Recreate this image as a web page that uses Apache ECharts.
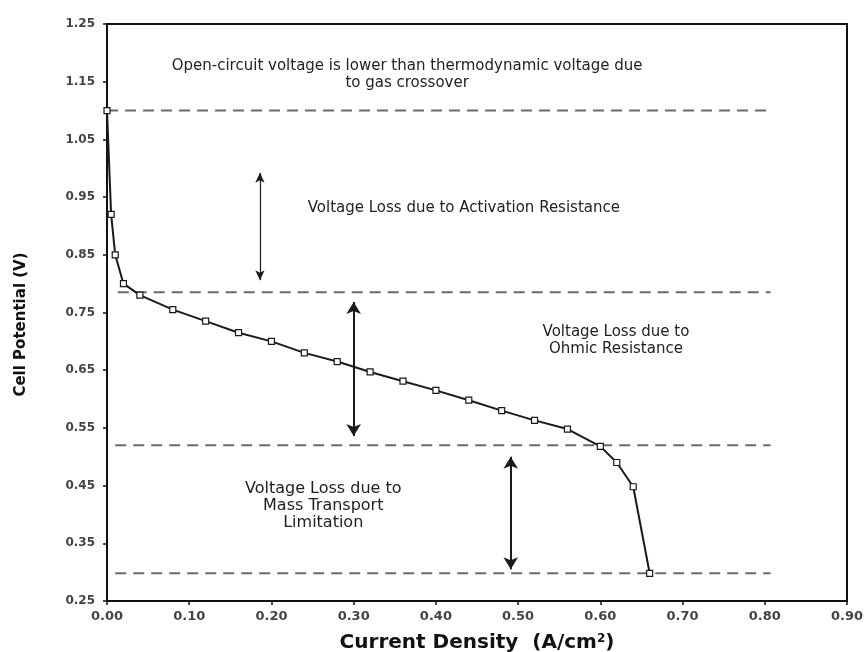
<!DOCTYPE html>
<html>
<head>
<meta charset="utf-8">
<script src="https://cdn.jsdelivr.net/npm/echarts@6/dist/echarts.min.js"></script>
<style>
    html, body { margin: 0; padding: 0; background: #fff; }
    #chart { width: 865px; height: 652px; }
</style>
</head>
<body>
<div id="chart"></div>
<script>
// polarisation curve points
var currentDensity = [0, 0.005, 0.01, 0.02, 0.04, 0.08, 0.12, 0.16, 0.20, 0.24, 0.28, 0.32, 0.36, 0.40, 0.44, 0.48, 0.52, 0.56, 0.60, 0.62, 0.64, 0.66];
var cellPotential = [1.10, 0.92, 0.85, 0.80, 0.78, 0.755, 0.735, 0.715, 0.70, 0.68, 0.665, 0.647, 0.631, 0.615, 0.598, 0.58, 0.563, 0.548, 0.518, 0.49, 0.448, 0.298];

// dashed reference levels: [y, xStart, xEnd]
var levelY = [1.10, 0.785, 0.52, 0.298];
var levelStart = [0, 0.013, 0.01, 0.01];
var levelEnd = [0.807, 0.807, 0.807, 0.807];

// double arrows: x, top, bottom
var arrowX = [0.186, 0.30, 0.491];
var arrowTop = [0.992, 0.768, 0.500];
var arrowBottom = [0.806, 0.536, 0.305];

// annotations
var noteText = [
    'Open-circuit voltage is lower than thermodynamic voltage due\nto gas crossover',
    'Voltage Loss due to Activation Resistance',
    'Voltage Loss due to\nOhmic Resistance',
    'Voltage Loss due to\nMass Transport\nLimitation'
];
var noteX = [0.365, 0.434, 0.619, 0.263];
var noteY = [1.162, 0.931, 0.701, 0.415];
var noteSize = [15, 15, 15, 16];

var xTicks = [0, 0.9, 0.1];
var yTicks = [0.25, 1.25, 0.1];

var font = 'DejaVu Sans, Verdana, sans-serif';
var myChart = echarts.init(document.getElementById('chart'));

var series = [];
// the curve
series.push({
    type: 'line',
    data: currentDensity.map(function (x, i) { return [x, cellPotential[i]]; }),
    symbol: 'rect',
    symbolSize: 6,
    lineStyle: { color: '#1a1a1a', width: 2 },
    itemStyle: { color: '#fff', borderColor: '#1a1a1a', borderWidth: 1.2 },
    z: 5
});
// dashed levels
levelY.forEach(function (y, i) {
    series.push({
        type: 'line',
        data: [[levelStart[i], y], [levelEnd[i], y]],
        symbol: 'none',
        silent: true,
        lineStyle: { color: '#6a6a6a', width: 2, type: [11, 7] },
        z: 3
    });
});
// arrows
arrowX.forEach(function (x, i) {
    var thin = i === 0;
    series.push({
        type: 'line',
        data: [],
        markLine: {
            silent: true,
            symbol: ['arrow', 'arrow'],
            symbolSize: thin ? [7, 10] : [11, 12],
            label: { show: false },
            lineStyle: { color: '#1a1a1a', width: thin ? 1.2 : 2, type: 'solid' },
            data: [[{ coord: [x, arrowTop[i]] }, { coord: [x, arrowBottom[i]] }]]
        }
    });
});
// annotation text, placed through markPoint in data coordinates
series.push({
    type: 'line',
    data: [],
    markPoint: {
        silent: true,
        symbol: 'circle',
        symbolSize: 0,
        label: {
            show: true,
            position: 'inside',
            color: '#222',
            fontFamily: font,
            fontSize: 15,
            lineHeight: 17,
            align: 'center',
            verticalAlign: 'middle',
            formatter: function (p) { return p.name; }
        },
        data: noteText.map(function (t, i) {
            return { name: t, coord: [noteX[i], noteY[i]], label: { fontSize: noteSize[i] } };
        })
    }
});

var option = {
    backgroundColor: '#fff',
    animation: false,
    grid: {
        left: 107,
        right: 18,
        top: 24,
        bottom: 51,
        outerBoundsMode: 'none',
        containLabel: false,
        show: true,
        borderColor: '#111',
        borderWidth: 2
    },
    xAxis: {
        type: 'value',
        min: xTicks[0],
        max: xTicks[1],
        interval: xTicks[2],
        name: '{a|Current Density  (A/cm}{s|2}{a|)}',
        nameLocation: 'middle',
        nameGap: 32,
        nameTextStyle: {
            rich: {
                a: { fontFamily: font, fontSize: 20, fontWeight: 'bold', color: '#111' },
                s: { fontFamily: font, fontSize: 12, fontWeight: 'bold', color: '#111', verticalAlign: 'top', padding: [0, 0, 8, 0] }
            }
        },
        axisLine: { lineStyle: { color: '#111', width: 2 } },
        axisTick: { show: true, length: 4, lineStyle: { color: '#111', width: 1.5 } },
        axisLabel: {
            margin: 9,
            color: '#444',
            fontFamily: font,
            fontSize: 13,
            fontWeight: 'bold',
            formatter: function (v) { return v.toFixed(2); }
        },
        splitLine: { show: false }
    },
    yAxis: {
        type: 'value',
        min: yTicks[0],
        max: yTicks[1],
        interval: yTicks[2],
        name: 'Cell Potential (V)',
        nameLocation: 'middle',
        nameGap: 78,
        nameTextStyle: { fontFamily: font, fontSize: 15, fontWeight: 'bold', color: '#111', padding: [0, 24, 0, 0] },
        axisLine: { lineStyle: { color: '#111', width: 2 } },
        axisTick: { show: true, length: 4, lineStyle: { color: '#111', width: 1.5 } },
        axisLabel: {
            margin: 12,
            color: '#444',
            fontFamily: font,
            fontSize: 12,
            fontWeight: 'bold',
            formatter: function (v) { return v.toFixed(2); }
        },
        splitLine: { show: false }
    },
    series: series
};
myChart.setOption(option);
</script>
</body>
</html>
